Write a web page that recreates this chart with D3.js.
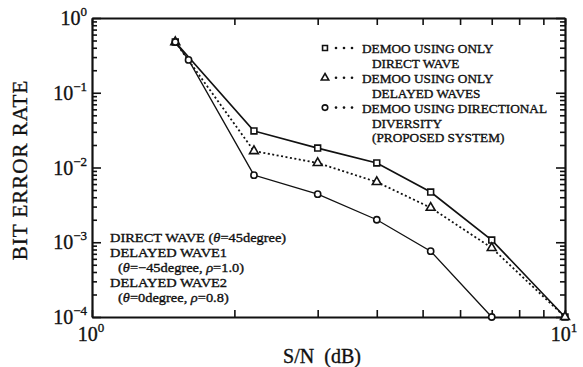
<!DOCTYPE html>
<html>
<head>
<meta charset="utf-8">
<script src="https://cdn.jsdelivr.net/npm/d3@7"></script>
<style>
    body { margin: 0; background: #fff; }
    text { font-family: "Liberation Serif", "DejaVu Serif", serif; fill: #111; }
    .ink { stroke: #111; stroke-width: 0.35; }
</style>
</head>
<body>
<svg id="chart"></svg>
<script>
;(function () {
    // values
    const directSnr = [1.5, 2.2, 3, 4, 5.2, 7, 10]
    const directBer = [0.477, 0.0308, 0.0182, 0.0115, 0.0047, 0.00107, 0.0001]

    const delayedSnr = [1.5, 2.2, 3, 4, 5.2, 7, 10]
    const delayedBer = [0.477, 0.0166, 0.0115, 0.0064, 0.0029, 0.00084, 0.0001]

    const diversitySnr = [1.5, 1.6, 2.2, 3, 4, 5.2, 7]
    const diversityBer = [0.477, 0.275, 0.0079, 0.0044, 0.002, 0.00076, 0.0001]

    const legendLines = [
        ["DEMOO USING ONLY", "DIRECT WAVE"],
        ["DEMOO USING ONLY", "DELAYED WAVES"],
        ["DEMOO USING DIRECTIONAL", "DIVERSITY", "(PROPOSED SYSTEM)"]
    ]
    const yTickExponents = [0, -1, -2, -3, -4]
    const xTickExponents = [0, 1]

    const width = 583
    const height = 367
    const margin = { top: 18, right: 18, bottom: 50, left: 92 }
    const chartWidth = width - margin.left - margin.right
    const chartHeight = height - margin.top - margin.bottom

    const svg = d3.select("#chart")
        .attr("width", width)
        .attr("height", height)

    const g = svg.append("g")
        .attr("transform", `translate(${margin.left},${margin.top})`)

    const xPositionScale = d3.scaleLog().domain([1, 10]).range([0, chartWidth])
    const yPositionScale = d3.scaleLog().domain([1e-4, 1]).range([chartHeight, 0])

    const isMajor = v => Math.abs(Math.log10(v) - Math.round(Math.log10(v))) < 1e-6

    // axes, ticks all pointing inward
    const xTicks = xPositionScale.ticks()
    const yTicks = yPositionScale.ticks()

    g.append("g")
        .attr("class", "axis x-axis")
        .attr("transform", `translate(0,${chartHeight})`)
        .call(d3.axisBottom(xPositionScale).tickValues(xTicks).tickSizeInner(-7).tickSizeOuter(0).tickFormat(""))
    g.append("g")
        .attr("class", "axis x-axis")
        .call(d3.axisTop(xPositionScale).tickValues(xTicks).tickSizeInner(-7).tickSizeOuter(0).tickFormat(""))
    g.append("g")
        .attr("class", "axis y-axis")
        .call(d3.axisLeft(yPositionScale).tickValues(yTicks).tickSizeInner(-5).tickSizeOuter(0).tickFormat(""))
    g.append("g")
        .attr("class", "axis y-axis")
        .attr("transform", `translate(${chartWidth},0)`)
        .call(d3.axisRight(yPositionScale).tickValues(yTicks).tickSizeInner(-5).tickSizeOuter(0).tickFormat(""))

    g.selectAll(".y-axis .tick line")
        .filter(d => isMajor(d))
        .attr("x2", function () { return +d3.select(this).attr("x2") * 1.8 })

    g.selectAll(".axis path").attr("stroke", "#111").attr("stroke-width", 2.2)
    g.selectAll(".axis line").attr("stroke", "#111").attr("stroke-width", 1.6)

    // tick labels as powers of ten
    yTickExponents.forEach(function (e) {
        const t = svg.append("text")
            .attr("class", "ink")
            .attr("x", margin.left - 5)
            .attr("y", margin.top + yPositionScale(Math.pow(10, e)) + 7)
            .attr("text-anchor", "end")
            .attr("font-size", 20)
            .text("10")
        t.append("tspan")
            .attr("dy", -9)
            .attr("font-size", 13)
            .text(e === 0 ? "0" : "\u2212" + Math.abs(e))
    })
    xTickExponents.forEach(function (e) {
        const t = svg.append("text")
            .attr("class", "ink")
            .attr("x", margin.left + xPositionScale(Math.pow(10, e)) - 1)
            .attr("y", margin.top + chartHeight + 24)
            .attr("text-anchor", "middle")
            .attr("font-size", 20)
            .text("10")
        t.append("tspan")
            .attr("dy", -9)
            .attr("font-size", 13)
            .text(e)
    })

    // axis titles
    svg.append("text")
        .attr("class", "ink")
        .attr("transform", `translate(27,${margin.top + 152}) rotate(-90)`)
        .attr("text-anchor", "middle")
        .attr("font-size", 21)
        .attr("letter-spacing", 1)
        .text("BIT ERROR RATE")

    svg.append("text")
        .attr("class", "ink")
        .attr("x", 322)
        .attr("y", 363)
        .attr("text-anchor", "middle")
        .attr("font-size", 20)
        .text("S/N\u2002(dB)")

    // lines
    const line = d3.line()
        .x(d => xPositionScale(d[0]))
        .y(d => yPositionScale(d[1]))

    const series = [
        { name: "direct", points: d3.zip(directSnr, directBer), marker: "square", dash: null, width: 1.7 },
        { name: "delayed", points: d3.zip(delayedSnr, delayedBer), marker: "triangle", dash: "2,2.5", width: 1.8 },
        { name: "diversity", points: d3.zip(diversitySnr, diversityBer), marker: "circle", dash: null, width: 1.3 }
    ]

    const symbolFor = {
        square: d3.symbol().type(d3.symbolSquare).size(34),
        triangle: d3.symbol().type(d3.symbolTriangle).size(34),
        circle: d3.symbol().type(d3.symbolCircle).size(30)
    }

    series.forEach(function (s) {
        g.append("path")
            .datum(s.points)
            .attr("fill", "none")
            .attr("stroke", "#111")
            .attr("stroke-width", s.width)
            .attr("stroke-dasharray", s.dash)
            .attr("d", line)
    })

    series.forEach(function (s) {
        g.selectAll(".marker-" + s.name)
            .data(s.points)
            .enter()
            .append("path")
            .attr("class", "marker-" + s.name)
            .attr("transform", d => `translate(${xPositionScale(d[0])},${yPositionScale(d[1])})`)
            .attr("d", symbolFor[s.marker])
            .attr("fill", "#fff")
            .attr("stroke", "#111")
            .attr("stroke-width", 1.6)
    })

    // legend
    const legend = svg.append("g").attr("transform", "translate(325,48)")
    let row = 0
    series.forEach(function (s, i) {
        const item = legend.append("g").attr("transform", `translate(0,${row * 14.9})`)
        item.append("path")
            .attr("d", d3.symbol().type(symbolFor[s.marker].type()).size(24))
            .attr("fill", "#fff")
            .attr("stroke", "#111")
            .attr("stroke-width", 1.6)
        item.selectAll("circle")
            .data([11, 19, 27])
            .enter()
            .append("circle")
            .attr("cx", d => d)
            .attr("cy", 0)
            .attr("r", 1.3)
            .attr("fill", "#111")
        legendLines[i].forEach(function (txt, j) {
            item.append("text")
                .attr("class", "ink")
                .attr("transform", `translate(${j === 0 ? 37 : 47},${j * 14.9 + 5}) scale(1.03,1)`)
                .attr("font-size", 12.9)
                .text(txt)
        })
        row += legendLines[i].length
    })

    // conditions note
    const note = svg.append("g").attr("transform", "translate(110,242)")
    const noteLines = [
        { indent: 0, parts: [["DIRECT WAVE (", false], ["\u03b8", true], ["=45degree)", false]] },
        { indent: 0, parts: [["DELAYED WAVE1", false]] },
        { indent: 8, parts: [["(", false], ["\u03b8", true], ["=\u221245degree, ", false], ["\u03c1", true], ["=1.0)", false]] },
        { indent: 0, parts: [["DELAYED WAVE2", false]] },
        { indent: 8, parts: [["(", false], ["\u03b8", true], ["=0degree, ", false], ["\u03c1", true], ["=0.8)", false]] }
    ]
    noteLines.forEach(function (l, i) {
        const t = note.append("text")
            .attr("class", "ink")
            .attr("transform", `translate(${l.indent},${i * 15}) scale(1.11,1)`)
            .attr("font-size", 13)
        l.parts.forEach(function (p) {
            t.append("tspan")
                .attr("font-style", p[1] ? "italic" : null)
                .text(p[0])
        })
    })
})()
</script>
</body>
</html>
